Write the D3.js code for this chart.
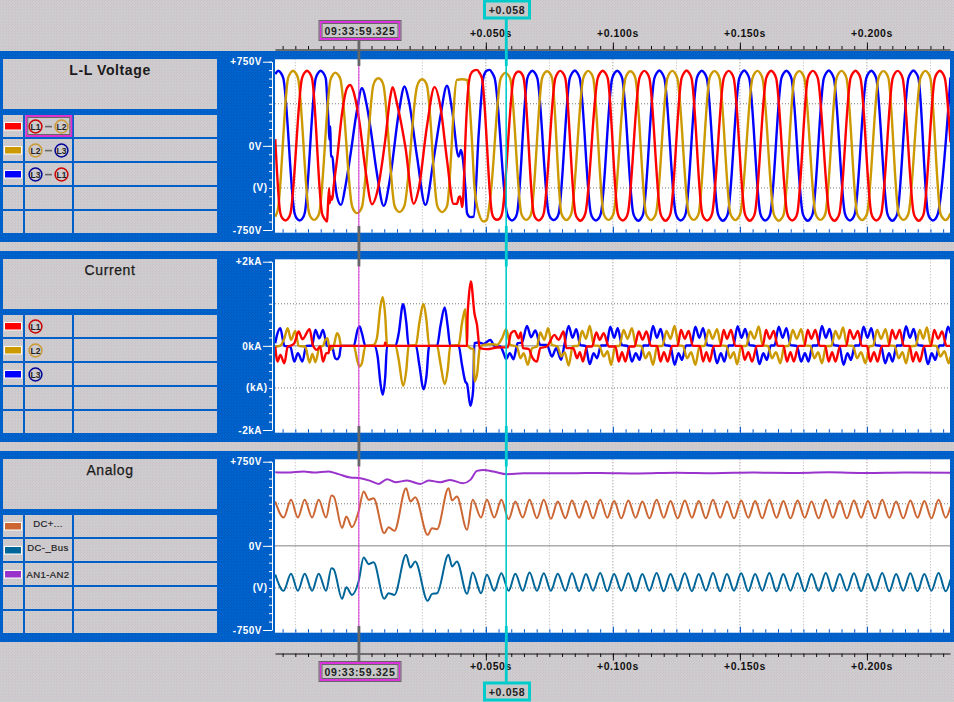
<!DOCTYPE html>
<html>
<head>
<meta charset="utf-8">
<script src="https://cdn.jsdelivr.net/npm/d3@7"></script>
<style>
html, body { margin: 0; padding: 0; background: #c8c8c8; overflow: hidden; }
svg { display: block; }
text { font-family: "Liberation Sans", Arial, sans-serif; }
</style>
</head>
<body>
<script>
// all waveforms are [ms from the cursor, value]
var volt_l1l2 = [
  [-32.9,60],[-30.9,-600],[-29.9,-650],[-28.9,-665],[-27.9,-650],[-26.9,-600],[-22.4,600],[-21.4,650],[-20.4,670],[-19.4,650],[-18.4,600],
  [-14.5,-600],[-13.5,-650],[-12.5,-674],[-12.3,-600],[-11.7,-377],[-11.5,-511],[-11.1,-451],[-10.7,-481],[-10.3,-451],[-9.9,-362],
  [-8.6,-125],[-6.6,291],[-4.7,514],[-3.4,543],[-2.1,484],[0.3,202],[2.6,-214],[5.2,-520],[7.1,-422],[10.4,53],
  [12.4,440],[13.3,523],[15,380],[18.3,-6],[21.6,-517],[23.5,-392],[26.8,172],[29.8,523],[32.1,350],[34.7,-125],
  [37.3,-517],[38.6,-517],[39.4,-457],[39.9,-451],[40.7,-546],[41.3,-362],[41.9,24],[42.8,440],[43.9,633],[45.2,671],[46.5,677],[47.5,650],[48.5,600],
  [52.4,-600],[53.4,-650],[54.4,-659],[55.4,-650],[56.4,-600],[60.9,600],[61.9,650],[62.9,662],[63.9,650],[64.9,600],
  [68.8,-600],[69.8,-650],[70.8,-665],[71.8,-650],[72.8,-600],[77.3,600],[78.3,650],[79.3,668],[80.3,650],[81.3,600],
  [85.2,-600],[86.2,-650],[87.2,-668],[88.2,-650],[89.2,-600],[94,600],[95,650],[96,670],[97,650],[98,600],
  [101.9,-600],[102.9,-650],[103.9,-665],[104.9,-650],[105.9,-600],[110.4,600],[111.4,650],[112.4,668],[113.4,650],[114.4,600],
  [118.7,-600],[119.7,-650],[120.7,-668],[121.7,-650],[122.7,-600],[127,600],[128,650],[129,672],[130,650],[131,600],
  [135.1,-600],[136.1,-650],[137.1,-665],[138.1,-650],[139.1,-600],[143.6,600],[144.6,650],[145.6,668],[146.6,650],[147.6,600],
  [151.9,-600],[152.9,-650],[153.9,-668],[154.9,-650],[155.9,-600],[160.3,600],[161.3,650],[162.3,670],[163.3,650],[164.3,600],
  [168.6,-600],[169.6,-650],[170.6,-665],[171.6,-650],[172.6,-600],[176.7,600],[177.7,650],[178.7,668],[179.7,650],[180.7,600],
  [185.2,-600],[186.2,-650],[187.2,-668],[188.2,-650],[189.2,-600],[193.5,600],[194.5,650],[195.5,670],[196.5,650],[197.5,600],
  [201.7,-600],[202.7,-650],[203.7,-665],[204.7,-650],[205.7,-600],[210.1,600],[211.1,650],[212.1,668],[213.1,650],[214.1,600],
  [218.4,-600],[219.4,-650],[220.4,-668],[221.4,-650],[222.4,-600],[226.7,600],[227.7,650],[228.7,670],[229.7,650],[230.7,600],[232.9,30]
];
var volt_l2l3 = [
  [-32.9,-630],[-31.9,-570],[-27.9,600],[-26.9,650],[-25.9,670],[-24.9,650],[-23.9,600],[-19.6,-600],[-18.6,-645],[-17.6,-660],[-16.6,-645],[-15.6,-600],
  [-11.2,585],[-10.2,635],[-9.2,653],[-8.2,635],[-7.2,590],[-2.7,-535],[-1.7,-585],[-0.7,-600],[0.3,-585],[1.3,-540],[5.7,540],[6.7,590],[7.7,603],[8.7,590],[9.7,540],
  [14,-530],[15,-575],[16,-590],[17,-575],[18,-530],[22.9,530],[23.9,580],[24.9,594],[25.9,580],[26.9,530],[30.8,-530],[31.8,-575],[32.8,-590],[33.8,-575],[34.8,-530],
  [38.6,588],[40.6,594],[42.6,588],[43.5,410],[44.5,53],[45.5,-362],[47.2,-600],[49.1,-674],[50.4,-660],[51.8,-451],
  [55.7,590],[56.7,635],[57.7,653],[58.7,635],[59.7,590],[63.9,-600],[64.9,-645],[65.9,-660],[66.9,-645],[67.9,-600],[72.1,600],[73.1,650],[74.1,665],[75.1,650],[76.1,600],
  [79.7,-600],[80.7,-645],[81.7,-662],[82.7,-645],[83.7,-600],[88.3,600],[89.3,650],[90.3,668],[91.3,650],[92.3,600],[96.3,-600],[97.3,-645],[98.3,-660],[99.3,-645],[100.3,-600],
  [104.9,600],[105.9,650],[106.9,665],[107.9,650],[108.9,600],[113,-600],[114,-645],[115,-662],[116,-645],[117,-600],[121.4,600],[122.4,650],[123.4,668],[124.4,650],[125.4,600],
  [129.8,-600],[130.8,-645],[131.8,-660],[132.8,-645],[133.8,-600],[138,600],[139,650],[140,666],[141,650],[142,600],[146.2,-600],[147.2,-645],[148.2,-662],[149.2,-645],[150.2,-600],
  [154.9,600],[155.9,650],[156.9,668],[157.9,650],[158.9,600],[163.3,-605],[164.3,-650],[165.3,-668],[166.3,-650],[167.3,-605],[171.4,600],[172.4,650],[173.4,666],[174.4,650],[175.4,600],
  [179.7,-600],[180.7,-645],[181.7,-660],[182.7,-645],[183.7,-600],[188,600],[189,650],[190,668],[191,650],[192,600],[196.1,-600],[197.1,-645],[198.1,-662],[199.1,-645],[200.1,-600],
  [204.5,600],[205.5,650],[206.5,666],[207.5,650],[208.5,600],[212.4,-600],[213.4,-645],[214.4,-660],[215.4,-645],[216.4,-600],[221,600],[222,650],[223,668],[224,650],[225,600],
  [228.9,-600],[229.9,-645],[230.9,-662],[231.9,-645],[232.9,-600]
];
var volt_l3l1 = [
  [-32.9,640],[-31.7,670],[-30.7,650],[-29.7,600],[-25.3,-600],[-24.3,-650],[-23.3,-665],[-22.3,-650],[-21.3,-600],[-17,600],[-16,650],[-15,670],[-14,650],[-13,600],
  [-12.4,400],[-11.9,202],[-11.6,53],[-11.2,172],[-11,-95],[-10.4,-95],[-9.9,-214],[-8.6,-451],[-7,-526],[-5.3,-362],
  [-3.4,-95],[-0.7,321],[1.2,514],[3.2,350],[4.5,172],[7.1,-244],[9.8,-535],[12.4,-273],[15.7,291],[18,529],[19.6,410],
  [22.9,-95],[26.2,-526],[29.4,-125],[32.1,261],[34.7,535],[36.7,321],[39.3,-95],[40.2,-36],[41,-125],[41.9,-362],
  [42.6,-600],[43.9,-635],[45.2,-630],[47.2,113],[49.1,618],[50.4,671],[51.5,677],[52.5,650],[53.5,600],
  [58.3,-600],[59.3,-650],[60.3,-665],[61.3,-650],[62.3,-600],[66.3,600],[67.3,650],[68.3,670],[69.3,650],[70.3,600],[74.7,-600],[75.7,-648],[76.7,-662],[77.7,-648],[78.7,-600],
  [83,600],[84,650],[85,672],[86,650],[87,600],[91.3,-600],[92.3,-650],[93.3,-665],[94.3,-650],[95.3,-600],[99.7,600],[100.7,650],[101.7,670],[102.7,650],[103.7,600],
  [108,-600],[109,-650],[110,-668],[111,-650],[112,-600],[116.3,600],[117.3,650],[118.3,672],[119.3,650],[120.3,600],[124.7,-600],[125.7,-650],[126.7,-665],[127.7,-650],[128.7,-600],
  [133,600],[134,650],[135,670],[136,650],[137,600],[141.3,-600],[142.3,-650],[143.3,-668],[144.3,-650],[145.3,-600],[149.7,600],[150.7,650],[151.7,672],[152.7,650],[153.7,600],
  [158,-600],[159,-650],[160,-665],[161,-650],[162,-600],[166.3,600],[167.3,650],[168.3,670],[169.3,650],[170.3,600],[174.7,-600],[175.7,-650],[176.7,-668],[177.7,-650],[178.7,-600],
  [183,600],[184,650],[185,672],[186,650],[187,600],[191.3,-600],[192.3,-650],[193.3,-665],[194.3,-650],[195.3,-600],[199.7,600],[200.7,650],[201.7,670],[202.7,650],[203.7,600],
  [208,-600],[209,-650],[210,-668],[211,-650],[212,-600],[216.3,600],[217.3,650],[218.3,672],[219.3,650],[220.3,600],[224,-600],[225,-650],[226,-665],[227,-650],[228,-600],[232.9,610]
];

var curr_l1 = [
  [-32.9,-16],[-32,-372],[-30.9,-214],[-29.3,-412],[-28,-16],[-27,0],[-25.4,63],[-23.7,340],[-22.2,158],[-19.4,396],
  [-18,0],[-16.5,-95],[-15.2,-16],[-14.1,-372],[-12.8,-174],[-11.9,-174],[-11.5,0],[10.1,0],[10.4,80],[10.7,0],[42.6,0],
  [42.8,697],[43.2,1093],[44.1,1529],[45.5,776],[46.5,499],[47.6,-55],[50.4,-79],[54.4,-40],[58.6,-32],[59.9,301],[61.3,356],
  [62.9,182],[63.8,317],[64.6,-55],[66.8,-71],[68.4,-293],[70.1,-372],[71.4,-55],[74,-16],[77,261],[78.6,143],[80.6,340],[81.7,-55],
  [84.4,-55],[85.9,-293],[87,-150],[88.2,-372],[89.8,-16],[91.8,-16],[93.5,317],[94.8,143],[96.4,301],[98.4,-16],[101,-16],
  [102.3,-372],[103.6,-150],[104.9,-372],[106.6,-16],[108.5,-16],[110.2,340],[111.7,150],[113.2,340],[115,0],[117.4,0],
  [118.7,-372],[120.1,-150],[121.6,-372],[123.3,0],[125.5,0],[126.8,380],[128.3,170],[129.8,356],[131.5,0],[134.2,0],
  [135.5,-372],[136.8,-150],[138.1,-372],[139.7,0],[142.3,0],[143.6,380],[144.9,170],[146.5,380],[148.2,0],[150.6,0],
  [151.9,-333],[153.3,-150],[154.8,-372],[156.7,0],[159,0],[160.3,380],[161.7,170],[163.3,356],[164.9,0],[167.2,0],
  [168.5,-372],[169.9,-150],[171.2,-372],[173.1,0],[175.4,0],[176.7,380],[178.1,170],[179.7,380],[181.4,0],[183.6,0],
  [184.9,-372],[186.3,-150],[187.6,-372],[189.5,0],[191.9,0],[193.2,380],[194.8,170],[196.4,356],[198,0],[200,0],
  [201.3,-372],[202.8,-150],[204.2,-372],[205.9,0],[208.6,0],[209.9,380],[211.3,170],[212.9,380],[214.5,0],[216.8,0],
  [218.1,-372],[219.4,-150],[220.8,-372],[222.6,0],[225.2,0],[226.5,380],[228,170],[229.6,340],[231.3,0],[232.9,0]
];
var curr_l2 = [
  [-32.9,-16],[-30.9,8],[-29.3,182],[-28,420],[-26.7,143],[-25,356],[-23.7,0],[-21.1,-16],[-19.4,-396],[-18.3,-190],[-17.1,-388],
  [-15.4,-16],[-14.1,0],[-13.2,143],[-12.3,182],[-11.5,-95],[-9.9,0],[-8.6,301],[-7.7,206],[-7,0],[-2,0],[-0.5,-372],[0.3,-491],
  [1.2,-412],[2.6,0],[5.8,24],[7.1,182],[8.5,935],[9.4,1156],[10.4,697],[11.1,24],[14.4,0],[15.7,-333],[17.4,-950],[18.7,-570],
  [19.6,0],[22.5,24],[23.8,539],[25.5,990],[26.6,618],[27.7,0],[30.8,0],[32.1,-412],[33.8,-911],[35,-570],[36,0],[39.3,24],
  [40.6,539],[41.9,871],[42.6,24],[43.9,-55],[45.2,-79],[45.5,-847],[46.5,-689],[47.6,-55],[49.1,24],[52.4,40],[54.4,24],
  [56.4,182],[58,396],[59.6,24],[62.2,-16],[63.6,-293],[64.9,-174],[66.5,-451],[68.2,-55],[70.1,-16],[71.4,317],[73,143],
  [74.5,420],[76,24],[78.2,-16],[79.7,-253],[81,-150],[82.6,-467],[84.2,-10],[86.3,0],[87.9,356],[89.4,170],[90.9,475],[92.5,10],[94.6,0],
  [96.4,-253],[97.9,-130],[99.3,-451],[100.9,-10],[102.6,0],[104.2,380],[105.8,170],[107.5,420],[109.1,10],[111.1,0],
  [112.8,-293],[114.3,-150],[115.8,-451],[117.4,-10],[119.5,0],[121.1,356],[122.7,170],[124.3,475],[125.9,10],[127.6,0],
  [129.2,-293],[130.8,-150],[132.5,-451],[134.1,-10],[136.1,0],[137.7,380],[139.3,170],[141,396],[142.6,10],[144.6,0],
  [146.2,-293],[147.6,-150],[148.9,-436],[150.5,-10],[152.5,0],[154.1,340],[155.7,170],[157.4,459],[159,10],[161,0],
  [162.6,-293],[164.2,-150],[165.9,-412],[167.5,-10],[169.2,0],[170.8,380],[172.4,170],[174.1,396],[175.7,10],[177.7,0],
  [179.3,-293],[180.8,-150],[182.3,-412],[183.9,-10],[186,0],[187.6,356],[189.1,170],[190.6,436],[192.2,10],[194.5,0],
  [196.1,-293],[197.7,-150],[199.4,-412],[201,-10],[202.4,0],[204,380],[205.6,170],[207.3,396],[208.9,10],[210.9,0],
  [212.5,-293],[214,-150],[215.4,-412],[217,-10],[219.2,0],[220.8,380],[222.2,170],[223.6,436],[225.2,10],[227.3,0],
  [228.9,-253],[230.5,-130],[232.2,-412],[232.9,-250]
];
var curr_l3 = [
  [-32.9,63],[-32.2,261],[-30.9,420],[-29.9,143],[-29.3,0],[-27,-16],[-25.4,-372],[-24,-174],[-22.2,-372],[-20.7,0],[-18.4,8],
  [-17.1,380],[-15.6,182],[-14.1,380],[-12.5,0],[-10.6,-16],[-9.3,-293],[-8.6,-317],[-7.7,-253],[-7,0],[-2,0],[-0.5,380],[0.3,459],
  [1.2,301],[2.6,0],[6.1,0],[7.4,-253],[8.5,-887],[9.4,-1164],[10.4,-729],[11.1,0],[14.4,0],[15.7,301],[17.4,990],[18.7,539],[19.6,0],
  [22.5,0],[23.8,-451],[25.5,-1030],[26.6,-729],[27.7,0],[30.8,0],[32.1,459],[33.8,911],[35,459],[36,0],[39.3,0],[40.6,-451],
  [41.9,-847],[42.6,-903],[43.9,-1426],[45,-1045],[45.5,63],[47.2,79],[49.1,48],[51.8,143],[53.3,0],[55.7,-16],[57,-174],[58,-317],
  [59.4,-174],[60.9,-317],[62.5,63],[64.2,79],[66.2,475],[67.8,206],[69.5,364],[71.4,24],[74,24],[76,-253],[77.7,-55],[79.6,-333],[80.9,20],
  [82.6,475],[84.1,190],[85.6,396],[87.2,16],[89.2,0],[90.9,-435],[92.4,-174],[93.8,-293],[95.3,8],[97.4,8],
  [99,455],[100.5,190],[101.9,420],[103.6,16],[105.8,0],[107.5,-372],[109,-174],[110.5,-333],[112,8],[114.1,8],
  [115.8,475],[117.3,190],[118.8,400],[120.5,16],[122.6,0],[124.3,-450],[125.8,-174],[127.2,-333],[128.8,8],[130.8,8],
  [132.5,455],[134,190],[135.5,420],[137.2,16],[139.3,0],[141,-412],[142.5,-174],[143.9,-372],[145.5,8],[147.4,8],
  [149.1,465],[150.6,190],[152.1,400],[153.8,16],[156,0],[157.7,-435],[159.2,-174],[160.6,-333],[162.2,8],[163.6,8],
  [165.3,455],[166.8,190],[168.3,420],[170,16],[172.4,0],[174.1,-372],[175.6,-174],[177,-372],[178.6,8],[180.6,8],
  [182.3,475],[183.8,190],[185.3,400],[187,16],[189.1,0],[190.8,-450],[192.3,-174],[193.7,-333],[195.3,8],[197,8],
  [198.7,455],[200.2,190],[201.7,420],[203.4,16],[205.5,0],[207.2,-412],[208.7,-174],[210.1,-372],[211.7,8],[213.7,8],
  [215.4,465],[216.9,190],[218.4,400],[220.1,16],[222.3,0],[224,-435],[225.5,-174],[226.9,-333],[228.5,8],[230.2,8],[231.9,455],[232.9,300]
];

var dc_plus = [
  [-32.9,395],[-29.6,252],[-26.7,410],[-24,252],[-21.3,410],[-18.4,252],[-15.8,410],[-12.9,252],[-10.8,448],[-9.9,440],[-6.6,160],
  [-4.9,261],[-2.7,166],[-0.1,306],[1.9,484],[3.9,410],[5.8,425],[10,113],[11.7,166],[14,134],[18.6,514],[20.3,395],[22.2,434],
  [27.1,98],[28.8,157],[30.8,149],[35.3,514],[36.7,404],[38.6,440],[42.6,143],[44.8,410],[48.1,252],[50.4,410],[53.3,252],[56.1,410],
  [59,238],[61.6,395],[64.5,252],[67.2,410],[70.1,247],[72.8,410],[75.6,241],[78.3,395],[81.3,247],[83.9,405],[86.7,250],[89.4,400],
  [92.2,245],[95,410],[97.8,250],[100.5,400],[103.3,245],[106.1,405],[108.9,250],[111.6,395],[114.4,245],[117.2,410],[120,250],
  [122.7,400],[125.5,245],[128.3,405],[131.1,250],[133.8,400],[136.6,245],[139.4,410],[142.2,250],[144.9,395],[147.7,245],[150.5,405],
  [153.3,250],[156,400],[158.8,245],[161.6,410],[164.4,250],[167.1,400],[169.9,245],[172.7,405],[175.5,250],[178.2,395],[181,245],
  [183.8,410],[186.6,250],[189.3,400],[192.1,245],[194.9,405],[197.7,250],[200.4,400],[203.2,245],[206,410],[208.8,250],[211.5,395],
  [214.3,245],[217.1,405],[219.9,250],[222.6,400],[225.4,245],[228.2,410],[231,250],[232.9,350]
];
var dc_bus = [
  [-32.9,-255],[-29.6,-401],[-26.7,-249],[-24,-401],[-21.3,-249],[-18.4,-401],[-15.8,-249],[-12.9,-401],[-10.8,-199],[-9.9,-208],
  [-6.6,-472],[-4.9,-368],[-2.7,-437],[-0.1,-318],[1.9,-104],[3.9,-163],[5.8,-146],[10,-472],[11.7,-422],[14,-437],[18.6,-80],
  [20.3,-193],[22.2,-140],[27.1,-490],[28.8,-428],[30.8,-422],[35.3,-80],[36.7,-184],[38.6,-140],[42.6,-428],[44.8,-238],[48.1,-422],
  [50.4,-258],[53.3,-401],[56.1,-244],[59,-401],[61.6,-249],[64.5,-401],[67.2,-238],[70.1,-401],[72.8,-244],[75.6,-401],[78.3,-249],
  [81.3,-401],[83.9,-245],[86.7,-405],[89.4,-250],[92.2,-400],[95,-242],[97.8,-405],[100.5,-250],[103.3,-400],[106.1,-245],[108.9,-405],
  [111.6,-252],[114.4,-400],[117.2,-242],[120,-405],[122.7,-250],[125.5,-400],[128.3,-245],[131.1,-405],[133.8,-250],[136.6,-400],
  [139.4,-242],[142.2,-405],[144.9,-252],[147.7,-400],[150.5,-245],[153.3,-405],[156,-250],[158.8,-400],[161.6,-242],[164.4,-405],
  [167.1,-250],[169.9,-400],[172.7,-245],[175.5,-405],[178.2,-252],[181,-400],[183.8,-242],[186.6,-405],[189.3,-250],[192.1,-400],
  [194.9,-245],[197.7,-405],[200.4,-250],[203.2,-400],[206,-242],[208.8,-405],[211.5,-252],[214.3,-400],[217.1,-245],[219.9,-405],
  [222.6,-250],[225.4,-400],[228.2,-242],[231,-405],[232.9,-300]
];
var an1_an2 = [
  [-32.9,656],[-28.3,653],[-21.7,662],[-17.8,653],[-11.9,662],[-8,639],[-3.4,609],[0.6,603],[4.5,579],[7.8,552],[11.1,594],[14.4,567],
  [19,582],[24.2,552],[27.5,582],[32.1,567],[36,588],[41,558],[43.9,588],[46.5,668],[49.1,677],[53.1,662],[58.3,639],[64.9,647],
  [72.7,647],[83.2,647],[95,650],[110,645],[125,652],[140,648],[155,653],[170,650],[185,655],[200,650],[215,654],[232.9,652]
];

// panel text and legends
var panel_titles = ["L-L Voltage", "Current", "Analog"];
var panel_spans = [750, 2000, 750];
var volt_ticks = ["+750V", "0V", "-750V"];
var curr_ticks = ["+2kA", "0kA", "-2kA"];
var unit_labels = ["(V)", "(kA)", "(V)"];
var volt_legend = [["L1", "L2"], ["L2", "L3"], ["L3", "L1"]];
var curr_legend = [["L1"], ["L2"], ["L3"]];
var analog_legend = ["DC+...", "DC-_Bus", "AN1-AN2"];
var time_labels = ["+0.050s", "+0.100s", "+0.150s", "+0.200s"];
var time_major = [50, 100, 150, 200];
var cursor_times = [0, 58];
var cursor_labels = ["09:33:59.325", "+0.058"];

var red = "#ff0000", gold = "#cc9900", blue = "#0000ff";
var phase_colors = { L1: "#cc0000", L2: "#cc9933", L3: "#000099" };
var cursor_colors = ["#dd33dd", "#00cccc"];

var svg_width = 954, svg_height = 702;
var plot_left = 275, plot_right = 950;
var panel_tops = [51, 251, 451];
var panel_h = 191;

var x = d3.scaleLinear().domain([-33, 232.7]).range([plot_left, plot_right]);
var minor_ticks = d3.range(-30, 233, 5);

var svg = d3.select("body").append("svg").attr("width", svg_width).attr("height", svg_height);
var defs = svg.append("defs");

function add_dither(id, base, dot) {
    var p = defs.append("pattern").attr("id", id).attr("patternUnits", "userSpaceOnUse")
        .attr("width", 3).attr("height", 3);
    p.append("rect").attr("width", 3).attr("height", 3).attr("fill", base);
    p.append("rect").attr("x", 0).attr("y", 0).attr("width", 1).attr("height", 1).attr("fill", dot);
    p.append("rect").attr("x", 2).attr("y", 1).attr("width", 1).attr("height", 1).attr("fill", dot);
}
add_dither("grey_dither", "#cdcdcd", "#cdbfcc");
add_dither("blue_dither", "#0062cc", "#0058bc");

svg.append("rect").attr("width", svg_width).attr("height", svg_height).attr("fill", "url(#grey_dither)");

function grey_cell(x0, y0, w, h) {
    svg.append("rect").attr("x", x0).attr("y", y0).attr("width", w).attr("height", h)
        .attr("fill", "url(#grey_dither)");
}

function render_legend_panel(i, top) {
    grey_cell(3, top + 8, 214, 50);
    svg.append("text").attr("x", 110).attr("y", top + 23.5).attr("text-anchor", "middle")
        .attr("font-size", 14).attr("font-weight", i == 0 ? "bold" : "normal")
        .attr("letter-spacing", 0.6).attr("fill", "#1a1a1a").attr("stroke", "#1a1a1a").attr("stroke-width", i == 0 ? 0 : 0.25)
        .text(panel_titles[i]);
    d3.range(5).forEach(function(r) {
        var ry = top + 64 + r * 24;
        grey_cell(3, ry, 20, 22);
        grey_cell(25, ry, 47, 22);
        grey_cell(74, ry, 143, 22);
    });
}

function legend_swatch(top, r, color) {
    svg.append("rect").attr("x", 4.5).attr("y", top + 71.5 + r * 24).attr("width", 17).attr("height", 7.5)
        .attr("fill", color).attr("stroke", "#fff").attr("stroke-width", 1);
}

function phase_badge(cx, cy, name) {
    svg.append("circle").attr("cx", cx).attr("cy", cy).attr("r", 6.4)
        .attr("fill", "none").attr("stroke", phase_colors[name]).attr("stroke-width", 1.5);
    svg.append("text").attr("x", cx).attr("y", cy + 3).attr("text-anchor", "middle")
        .attr("font-size", 8.5).attr("font-weight", "bold").attr("fill", "#222").text(name);
}

function render_voltage_legend(top) {
    [red, gold, blue].forEach(function(c, r) {
        legend_swatch(top, r, c);
        var cy = top + 75.5 + r * 24;
        phase_badge(35.5, cy, volt_legend[r][0]);
        phase_badge(61.5, cy, volt_legend[r][1]);
        svg.append("rect").attr("x", 45).attr("y", cy - 0.7).attr("width", 7).attr("height", 1.6).attr("fill", "#666");
    });
    svg.append("rect").attr("x", 26.3).attr("y", top + 65).attr("width", 45).attr("height", 20)
        .attr("fill", "none").attr("stroke", "#dd33cc").attr("stroke-width", 2);
    svg.append("rect").attr("x", 27.8).attr("y", top + 66.5).attr("width", 42).attr("height", 17)
        .attr("fill", "none").attr("stroke", "#666").attr("stroke-width", 1);
}

function render_current_legend(top) {
    [red, gold, blue].forEach(function(c, r) {
        legend_swatch(top, r, c);
        phase_badge(35.5, top + 75.5 + r * 24, curr_legend[r][0]);
    });
}

function render_analog_legend(top) {
    var text_y = [75.5, 99.5, 127];
    ["#cc6633", "#006699", "#9933cc"].forEach(function(c, r) {
        legend_swatch(top, r, c);
        svg.append("text").attr("x", 48).attr("y", top + text_y[r]).attr("text-anchor", "middle")
            .attr("font-size", 9.5).attr("letter-spacing", 0.4).attr("fill", "#222")
            .attr("stroke", "#222").attr("stroke-width", 0.2).text(analog_legend[r]);
    });
}

function render_plot(i, top, series, widths, tick_texts) {
    var span = panel_spans[i];
    var y = d3.scaleLinear().domain([-span, span]).range([top + 179, top + 10.7]);
    var plot_top = top + 8.3, plot_bottom = top + 181.7;

    svg.append("rect").attr("x", plot_left).attr("y", plot_top).attr("width", plot_right - plot_left)
        .attr("height", plot_bottom - plot_top).attr("fill", "#fff");

    // vertical grid every 25 ms, the 50 ms ones print darker
    d3.range(-25, 233, 25).forEach(function(t) {
        svg.append("line").attr("x1", x(t)).attr("x2", x(t)).attr("y1", plot_top).attr("y2", plot_bottom)
            .attr("stroke", t % 50 == 0 ? "#808080" : "#b0b0b0").attr("stroke-width", 1).attr("stroke-dasharray", "1,2");
    });
    [-span / 2, span / 2].forEach(function(v) {
        svg.append("line").attr("x1", plot_left).attr("x2", plot_right).attr("y1", y(v)).attr("y2", y(v))
            .attr("stroke", "#777").attr("stroke-width", 1).attr("stroke-dasharray", "1,2");
    });
    svg.append("line").attr("x1", plot_left).attr("x2", plot_right).attr("y1", y(0)).attr("y2", y(0))
        .attr("stroke", "#808080").attr("stroke-width", 1);

    // blue ticks inside the bottom of the plot
    var inner = svg.append("g").attr("transform", "translate(0," + plot_bottom + ")")
        .call(d3.axisTop(x).tickValues(minor_ticks).tickSize(3.5).tickFormat(""));
    inner.select(".domain").remove();
    inner.selectAll("line").attr("stroke", "#0055cc").attr("stroke-width", 1);
    var inner_major = svg.append("g").attr("transform", "translate(0," + plot_bottom + ")")
        .call(d3.axisTop(x).tickValues(time_major).tickSize(6).tickFormat(""));
    inner_major.select(".domain").remove();
    inner_major.selectAll("line").attr("stroke", "#0055cc").attr("stroke-width", 1);

    defs.append("clipPath").attr("id", "clip" + i).append("rect")
        .attr("x", plot_left).attr("y", plot_top).attr("width", plot_right - plot_left).attr("height", plot_bottom - plot_top);
    var line = d3.line().curve(d3.curveMonotoneX).x(function(d) { return x(d[0]); }).y(function(d) { return y(d[1]); });
    series.forEach(function(s) {
        svg.append("path").datum(s.values).attr("d", line).attr("fill", "none").attr("stroke", s.color)
            .attr("stroke-width", widths).attr("stroke-linejoin", "round").attr("clip-path", "url(#clip" + i + ")");
    });

    // white value axis on the blue band
    var minor_vals = d3.range(-span, span + 1, span / 10);
    var ax = svg.append("g").attr("transform", "translate(272,0)")
        .call(d3.axisLeft(y).tickValues(minor_vals).tickSize(3).tickSizeOuter(0).tickFormat(""));
    ax.selectAll("path,line").attr("stroke", "#fff").attr("stroke-width", 1);
    var ax_major = svg.append("g").attr("transform", "translate(272,0)")
        .call(d3.axisLeft(y).tickValues([span, 0, -span]).tickSize(9).tickSizeOuter(0).tickPadding(1)
            .tickFormat(function(d, k) { return tick_texts[k]; }));
    ax_major.select(".domain").remove();
    ax_major.selectAll("line").attr("stroke", "#fff").attr("stroke-width", 1);
    ax_major.selectAll("text").attr("fill", "#fff").attr("font-size", 10).attr("font-weight", "bold")
        .attr("letter-spacing", 0.5).style("font-family", '"Liberation Sans", Arial, sans-serif');
    svg.append("text").attr("x", 267.5).attr("y", y(-span / 2) + 3.5).attr("text-anchor", "end")
        .attr("fill", "#fff").attr("font-size", 10).attr("font-weight", "bold").attr("letter-spacing", 0.5)
        .text(unit_labels[i]);
}

function render_time_axis(axis_y, up) {
    var maker = up ? d3.axisTop : d3.axisBottom;
    var minor = svg.append("g").attr("transform", "translate(0," + axis_y + ")")
        .call(maker(x).tickValues(minor_ticks).tickSize(3.5).tickSizeOuter(0).tickFormat(""));
    minor.selectAll("path,line").attr("stroke", "#111").attr("stroke-width", 1);
    var major = svg.append("g").attr("transform", "translate(0," + axis_y + ")")
        .call(maker(x).tickValues(time_major).tickSize(7).tickFormat(""));
    major.select(".domain").remove();
    major.selectAll("line").attr("stroke", "#111").attr("stroke-width", 1);
    time_major.forEach(function(t, k) {
        svg.append("text").attr("x", x(t) + 5).attr("y", up ? axis_y - 13 : axis_y + 16)
            .attr("text-anchor", "middle").attr("font-size", 10.5).attr("font-weight", "bold")
            .attr("letter-spacing", 0.5).attr("fill", "#111").text(time_labels[k]);
    });
}

function render_cursor(k) {
    var cx = x(cursor_times[k]);
    var color = cursor_colors[k];
    var heavy = k == 0 ? "#666" : color;
    var box_top = k == 0 ? [21, 662] : [0, 682];
    var box_w = k == 0 ? 81 : 47;
    var thick = [[k == 0 ? 40 : 19, 66], [226, 266.5], [426, 466.5], [626, box_top[1]]];
    thick.forEach(function(s) {
        svg.append("rect").attr("x", cx - 1.3).attr("y", s[0]).attr("width", 2.8).attr("height", s[1] - s[0]).attr("fill", heavy);
    });
    panel_tops.forEach(function(top) {
        svg.append("line").attr("x1", cx).attr("x2", cx).attr("y1", top + 15).attr("y2", top + 175)
            .attr("stroke", color).attr("stroke-width", k == 0 ? 1 : 1.6);
    });
    box_top.forEach(function(by) {
        var bx = (k == 0 ? 319.5 : 483.5);
        svg.append("rect").attr("x", bx + 1).attr("y", by + 1).attr("width", box_w - 2).attr("height", 17)
            .attr("fill", "#c8c8c8").attr("stroke", color).attr("stroke-width", k == 0 ? 2 : 3);
        if (k == 0) {
            svg.append("rect").attr("x", bx - 0.5).attr("y", by - 0.5).attr("width", box_w + 1).attr("height", 20)
                .attr("fill", "none").attr("stroke", "#666").attr("stroke-width", 1);
            svg.append("rect").attr("x", bx + 2.5).attr("y", by + 2.5).attr("width", box_w - 5).attr("height", 14)
                .attr("fill", "none").attr("stroke", "#666").attr("stroke-width", 1);
        }
        svg.append("text").attr("x", bx + box_w / 2).attr("y", by + 13.5).attr("text-anchor", "middle")
            .attr("font-size", 10.5).attr("font-weight", "bold").attr("letter-spacing", 0.7).attr("fill", "#222")
            .text(cursor_labels[k]);
    });
}

// blue bands first, everything else sits on them
panel_tops.forEach(function(top) {
    svg.append("rect").attr("x", 0).attr("y", top).attr("width", svg_width).attr("height", panel_h)
        .attr("fill", "url(#blue_dither)");
});
panel_tops.forEach(function(top, i) { render_legend_panel(i, top); });
render_voltage_legend(panel_tops[0]);
render_current_legend(panel_tops[1]);
render_analog_legend(panel_tops[2]);

render_plot(0, panel_tops[0], [
    { values: volt_l3l1, color: blue }, { values: volt_l2l3, color: gold }, { values: volt_l1l2, color: red }
], 2.4, volt_ticks);
render_plot(1, panel_tops[1], [
    { values: curr_l3, color: blue }, { values: curr_l2, color: gold }, { values: curr_l1, color: red }
], 2.4, curr_ticks);
render_plot(2, panel_tops[2], [
    { values: dc_plus, color: "#cc6633" }, { values: dc_bus, color: "#006699" }, { values: an1_an2, color: "#9933cc" }
], 2, volt_ticks);

render_time_axis(49.5, true);
render_time_axis(653.5, false);
render_cursor(0);
render_cursor(1);
</script>
</body>
</html>
